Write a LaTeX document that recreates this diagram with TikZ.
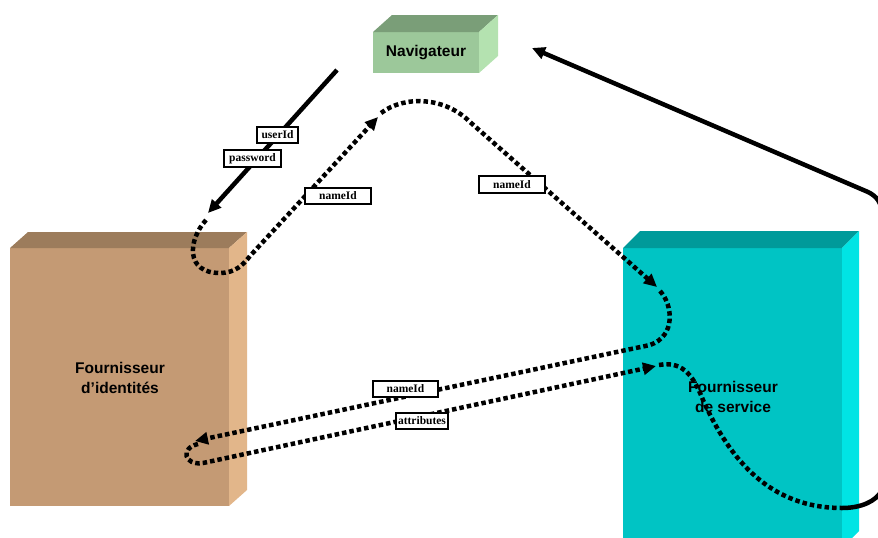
\documentclass[tikz,border=0pt]{standalone}
\usepackage{fontspec}
\setmainfont{Liberation Sans}
\newfontfamily\labelfont{Liberation Serif}
\usetikzlibrary{arrows.meta}
\definecolor{navfront}{HTML}{9CC89A}
\definecolor{navtop}{HTML}{7A9E78}
\definecolor{navside}{HTML}{B4E2B0}
\definecolor{idpfront}{HTML}{C49A74}
\definecolor{idptop}{HTML}{9C7C5C}
\definecolor{idpside}{HTML}{E2B68A}
\definecolor{spfront}{HTML}{00C4C4}
\definecolor{sptop}{HTML}{009A9A}
\definecolor{spside}{HTML}{00E4E4}
\tikzset{
  face/.style={inner sep=0pt, outer sep=0pt, align=center, font=\bfseries\fontsize{15.5}{19.5}\selectfont},
  tag/.style={draw=black, line width=1.6pt, fill=white, inner sep=0pt, outer sep=0pt,
    font=\labelfont\bfseries\fontsize{11.5}{13}\selectfont, minimum height=16pt},
  solidline/.style={line width=4.5pt, -{Triangle[length=13pt,width=12pt]}},
  dotpat/.style={line width=4.5pt, dash pattern=on 4.5pt off 3pt},
  dotline/.style={dotpat, -{Triangle[length=13pt,width=12pt]}},
}
\begin{document}
\begin{tikzpicture}[x=1pt,y=-1pt]
\useasboundingbox (0,0) rectangle (878,538);
\clip (0,0) rectangle (878,538);

% Navigateur
\node[face, fill=navfront, minimum width=106pt, minimum height=41pt] (nav) at (426,52.5) {Navigateur};
\fill[navtop] (nav.north west) -- ++(19,-17) -- ++(106,0) -- (nav.north east) -- cycle;
\fill[navside] (nav.north east) -- ++(19,-17) -- ++(0,41) -- (nav.south east) -- cycle;

% Fournisseur d'identites
\node[face, fill=idpfront, minimum width=219pt, minimum height=258pt] (idp) at (119.5,377) {};
\fill[idptop] (idp.north west) -- ++(18,-16) -- ++(219,0) -- (idp.north east) -- cycle;
\fill[idpside] (idp.north east) -- ++(18,-16) -- ++(0,258) -- (idp.south east) -- cycle;
\node[face] (idptext) at (120,378) {Fournisseur\\d’identités};

% Fournisseur de service
\node[face, fill=spfront, minimum width=219pt, minimum height=300pt] (sp) at (732.5,398) {};
\fill[sptop] (sp.north west) -- ++(17,-17) -- ++(219,0) -- (sp.north east) -- cycle;
\fill[spside] (sp.north east) -- ++(17,-17) -- ++(0,300) -- (sp.south east) -- cycle;

% waypoints
\coordinate (s1) at (337,70);
\coordinate (t1) at (208,213);
\coordinate (d2s) at (206,220);
\coordinate (t2) at (378,117);
\coordinate (d3s) at (381,113);
\coordinate (t3) at (657,287);
\coordinate (d4s) at (660,291);
\coordinate (t4) at (195,441);
\coordinate (d5s) at (198,444);
\coordinate (t5) at (656,366);
\coordinate (d6s) at (659,365);
\coordinate (j6) at (842,508);
\coordinate (t7) at (532,48);

% solid login arrow
\draw[solidline] (s1) -- (t1);
% dotted flows
\draw[dotline] (d2s) .. controls (188,240) and (185,273) .. (220,273)
   .. controls (235,273) and (243,265) .. (250,256) -- (t2);
\draw[dotline] (d3s) .. controls (405,95) and (445,97) .. (470,122) -- (t3);
\draw[dotline] (d4s) .. controls (673,305) and (676,336) .. (650,345) -- (t4);
\draw[dotline] (d5s) .. controls (180,448) and (184,466) .. (203,463) -- (t5);
\draw[dotpat] (d6s) .. controls (685,360) and (695,380) .. (703,400)
   .. controls (730,460) and (770,508) .. (j6);
\draw[solidline] (j6) .. controls (860,508) and (876,502) .. (882,490) -- (882,215)
   .. controls (882,202) and (876,196) .. (868,192) -- (t7);

% labels
\node[tag, minimum width=41pt] (lu) at (277.5,135) {userId};
\node[tag, minimum width=57pt, minimum height=17pt] (lp) at (252.5,158.5) {password};
\node[tag, minimum width=66pt] (ln1) at (338,196) {nameId};
\node[tag, minimum width=66pt, minimum height=17pt] (ln2) at (512,184.5) {nameId};
\node[tag, minimum width=65pt] (ln3) at (405.5,389) {nameId};
\node[tag, minimum width=52pt] (la) at (422,421) {attributes};

% service text drawn last so it sits on the dotted line
\node[face] (sptext) at (733,397) {Fournisseur\\de service};
\end{tikzpicture}
\end{document}
